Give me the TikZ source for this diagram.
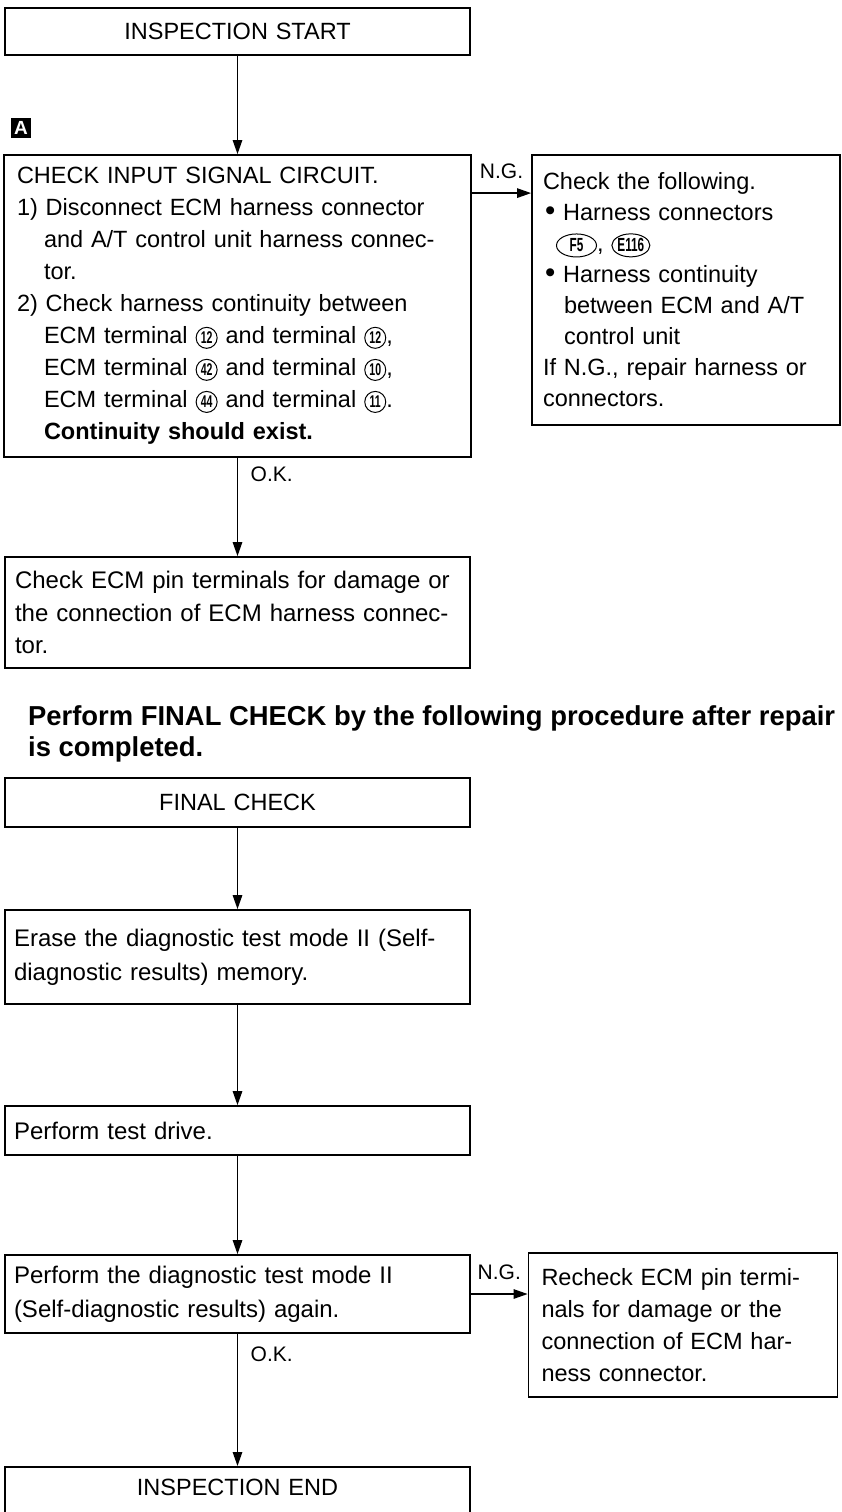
\documentclass[tikz,border=0pt]{standalone}
\usepackage{fontspec}
\setmainfont{Liberation Sans}
\usepackage{graphicx}
\usetikzlibrary{arrows.meta,shapes.geometric}
\newcommand\cnum[1]{\tikz[baseline=(cn.base)]\node[draw,circle,line width=1pt,inner sep=0pt,minimum size=21pt,font=\fontsize{17}{17}\selectfont\bfseries](cn){\scalebox{0.62}[1]{#1}};}
\newcommand\conn[2]{\tikz[baseline=(cc.base)]\node[draw,ellipse,line width=1pt,inner xsep=0pt,inner ysep=0pt,minimum width=#2,minimum height=23pt,font=\fontsize{19}{19}\selectfont\bfseries](cc){\scalebox{0.62}[1]{#1}};}
\begin{document}
\begin{tikzpicture}[x=1pt,y=-1pt,
  box/.style={draw,line width=1.8pt,inner ysep=0pt,align=left,font=\fontsize{23.5}{32}\selectfont},
  lowbox/.style={box,font=\fontsize{24}{34}\selectfont},
  arr/.style={line width=1.3pt,-{Triangle[length=14pt,width=9.5pt]}},
  lbl/.style={font=\fontsize{21}{21}\selectfont,inner sep=0pt}]
\useasboundingbox (0,0) rectangle (842,1512);

% top section
\node[box,align=center,text width=445pt,inner xsep=10pt,minimum height=47pt] (start) at (237.5,31.5) {INSPECTION START};
\node[fill=black,text=white,inner sep=0pt,minimum size=20pt,font=\fontsize{19}{19}\selectfont\bfseries] (markA) at (21,128) {A};

\node[box,text width=441pt,inner xsep=13pt,minimum height=302pt] (check) at (237.5,306) {CHECK INPUT SIGNAL CIRCUIT.\\
1) Disconnect ECM harness connector\\
\hspace*{27pt}and A/T control unit harness connec-\\
\hspace*{27pt}tor.\\
2) Check harness continuity between\\
\hspace*{27pt}ECM terminal\hspace{8pt}\cnum{12}\hspace{8pt}and terminal\hspace{8pt}\cnum{12},\\
\hspace*{27pt}ECM terminal\hspace{8pt}\cnum{42}\hspace{8pt}and terminal\hspace{8pt}\cnum{10},\\
\hspace*{27pt}ECM terminal\hspace{8pt}\cnum{44}\hspace{8pt}and terminal\hspace{8pt}\cnum{11}.\\
\hspace*{27pt}\textbf{Continuity should exist.}};

\node[box,font=\fontsize{23.5}{31}\selectfont,text width=286pt,inner xsep=11pt,minimum height=270pt] (following) at (686,290) {Check the following.\\
\hspace*{2pt}\scalebox{1.25}{\textbullet}\ Harness connectors\\
\hspace*{13pt}\conn{F5}{40pt}, \conn{E116}{34pt}\\
\hspace*{2pt}\scalebox{1.25}{\textbullet}\ Harness continuity\\
\hspace*{21pt}between ECM and A/T\\
\hspace*{21pt}control unit\\
If N.G., repair harness or\\
connectors.};

\coordinate (ngA) at ([yshift=-39pt]check.north east);
\draw[arr] (start.south) -- (check.north);
\draw[arr] (ngA) -- (ngA -| following.west) node[lbl,midway,above=14pt] (ngAl) {N.G.};

\node[lowbox,font=\fontsize{24}{32.5}\selectfont,text width=445pt,inner xsep=10pt,minimum height=111pt] (pin) at (237.5,612.5) {Check ECM pin terminals for damage or\\
the connection of ECM harness connec-\\
tor.};
\draw[arr] (check.south) -- (pin.north);
\node[lbl,anchor=west] (okAl) at ([xshift=13pt,yshift=-16pt]check.south) {O.K.};

% heading
\node[anchor=north west,align=left,inner sep=0pt,font=\fontsize{27.4}{31}\selectfont\bfseries] (head) at (28,705) {Perform FINAL CHECK by the following procedure after repair\\is completed.};

% final check section
\node[box,align=center,text width=445pt,inner xsep=10pt,minimum height=49pt] (final) at (237.5,802.5) {FINAL CHECK};
\node[lowbox,text width=447pt,inner xsep=9pt,minimum height=94pt] (erase) at (237.5,957) {Erase the diagnostic test mode II (Self-\\
diagnostic results) memory.};
\node[lowbox,text width=447pt,inner xsep=9pt,minimum height=49pt] (drive) at (237.5,1130.5) {Perform test drive.};
\node[lowbox,text width=447pt,inner xsep=9pt,minimum height=78pt] (again) at (237.5,1294) {Perform the diagnostic test mode II\\
(Self-diagnostic results) again.};
\node[box,font=\fontsize{23.5}{32}\selectfont,text width=283pt,inner xsep=13pt,minimum height=144pt] (recheck) at (683,1325) {Recheck ECM pin termi-\\
nals for damage or the\\
connection of ECM har-\\
ness connector.};
\node[box,align=center,anchor=north,text width=445pt,inner xsep=10pt,text height=29pt,text depth=60pt] (finish) at (237.5,1466) {INSPECTION END};

\draw[arr] (final.south) -- (erase.north);
\draw[arr] (erase.south) -- (drive.north);
\draw[arr] (drive.south) -- (again.north);
\draw[arr] (again.east) -- (again.east -| recheck.west) node[lbl,midway,above=14pt] (ngBl) {N.G.};
\draw[arr] (again.south) -- (finish.north);
\node[lbl,anchor=west] (okBl) at ([xshift=13pt,yshift=-20pt]again.south) {O.K.};
\end{tikzpicture}
\end{document}
